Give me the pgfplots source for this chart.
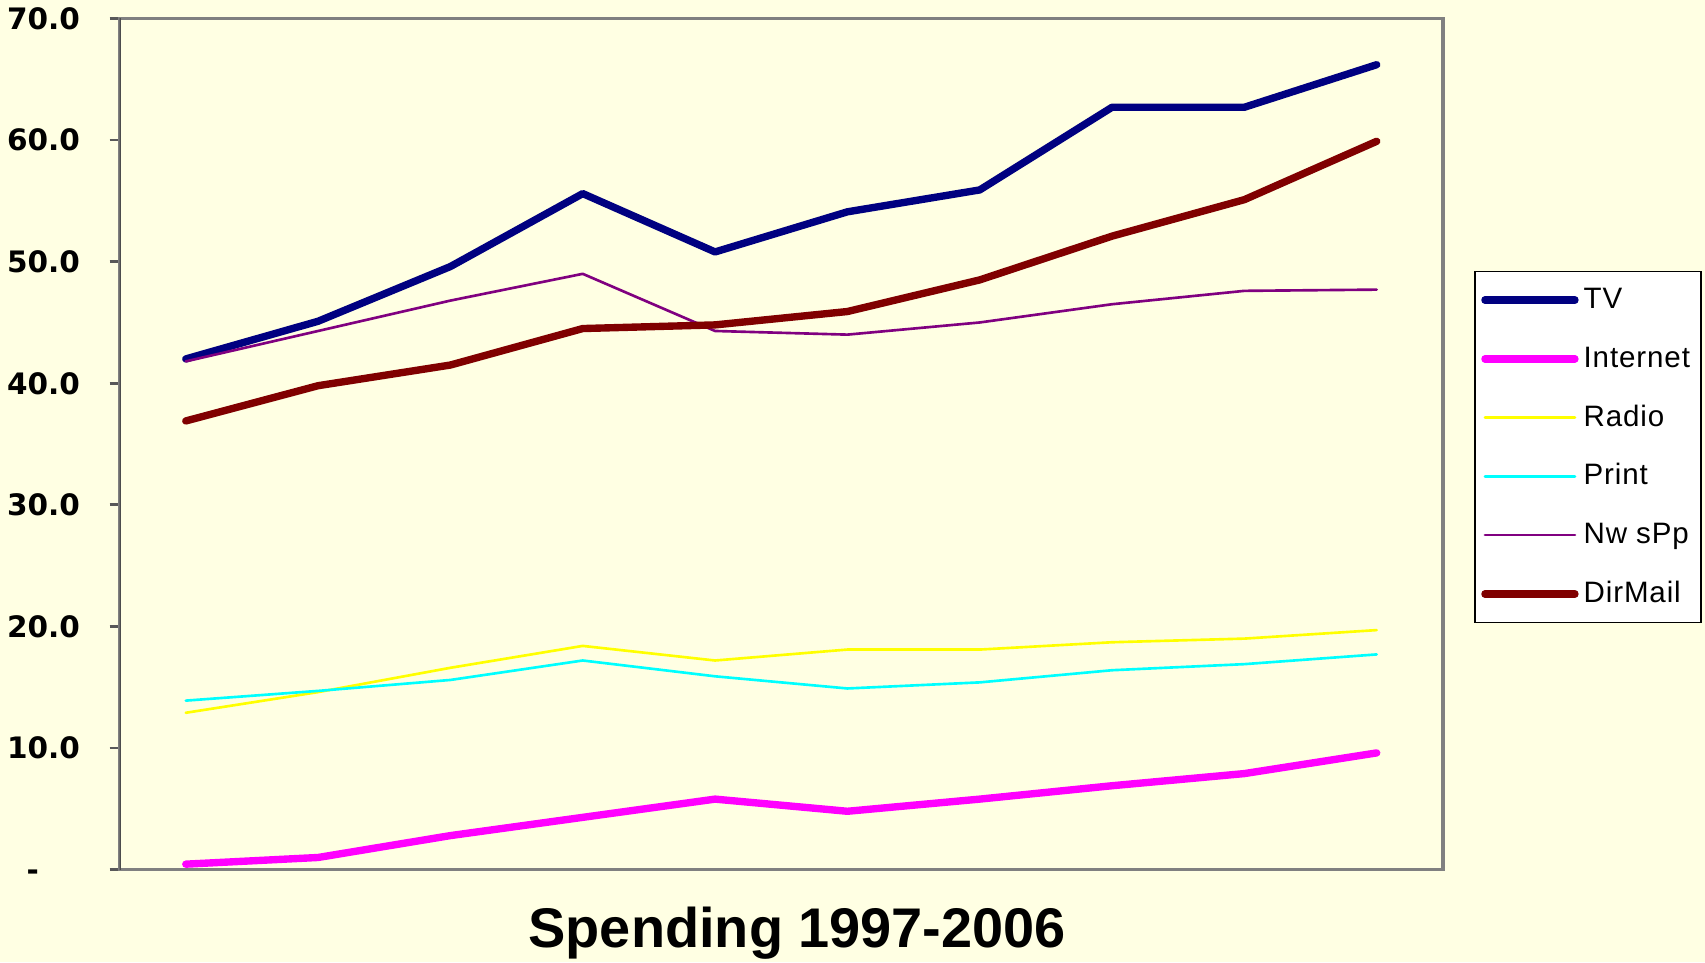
\documentclass[border=0pt]{standalone}
\usepackage{fontspec}
\setmainfont{Liberation Sans}
\newfontfamily\tickfont{DejaVu Sans}
\newfontfamily\legfont[LetterSpace=3]{Liberation Sans}
\usepackage{pgfplots}
\pgfplotsset{compat=1.18}
\usetikzlibrary{backgrounds}

\definecolor{bgc}{RGB}{255,255,227}
\definecolor{tvc}{RGB}{0,0,128}
\definecolor{netc}{RGB}{255,0,255}
\definecolor{radc}{RGB}{255,255,0}
\definecolor{prc}{RGB}{0,255,255}
\definecolor{nwc}{RGB}{128,0,128}
\definecolor{dmc}{RGB}{128,0,0}

\begin{document}
\begin{tikzpicture}
\begin{axis}[
  scale only axis,
  width=132.3mm, height=85.1mm,
  xmin=0.5, xmax=10.5,
  ymin=0, ymax=70,
  xtick=\empty,
  ytick={0,10,...,70},
  yticklabels={\smash{\raisebox{-1.1mm}{-}}\rule{4.1mm}{0pt},10.0,20.0,30.0,40.0,50.0,60.0,70.0},
  /pgf/number format/assume math mode=true,
  yticklabel style={font=\tickfont\fontsize{8.4}{10}\selectfont\bfseries, inner sep=0pt, xshift=-2.9mm},
  tick align=outside,
  major tick length=1mm,
  ytick pos=left,
  tick style={black!65, line width=0.8pt},
  axis line style={gray, line width=1pt},
  axis background/.style={fill=bgc},
  xlabel={Spending 1997-2006},
  xlabel style={font=\fontsize{15.9}{18}\selectfont\bfseries, inner sep=0pt, yshift=-2.7mm, xshift=1.6mm},
  legend style={at={(1.0238,0.7037)}, anchor=north west, draw=black, fill=white,
    font=\legfont\fontsize{8.4}{10}\selectfont, line width=0.5pt, inner xsep=0.6mm, inner ysep=0.8mm,
    row sep=1.77mm,
    nodes={inner xsep=0.5mm, text height=2.2mm, text depth=0.5mm}},
  legend cell align=left,
  legend image code/.code={\draw[#1] (0mm,0mm) -- (9mm,0mm);},
  every axis plot/.append style={line cap=round, line join=round},
]
\coordinate (bl) at (rel axis cs:0,0);
\coordinate (tr) at (rel axis cs:1,1);
\addplot[tvc, line width=2.1pt] coordinates {(1,42.0) (2,45.1) (3,49.6) (4,55.6) (5,50.8) (6,54.1) (7,55.9) (8,62.7) (9,62.7) (10,66.2)};
\addplot[netc, line width=2.1pt] coordinates {(1,0.45) (2,1.0) (3,2.8) (4,4.3) (5,5.8) (6,4.8) (7,5.8) (8,6.9) (9,7.9) (10,9.6)};
\addplot[radc, line width=0.75pt] coordinates {(1,12.9) (2,14.6) (3,16.6) (4,18.4) (5,17.2) (6,18.1) (7,18.1) (8,18.7) (9,19.0) (10,19.7)};
\addplot[prc, line width=0.75pt] coordinates {(1,13.9) (2,14.7) (3,15.6) (4,17.2) (5,15.9) (6,14.9) (7,15.4) (8,16.4) (9,16.9) (10,17.7)};
\addplot[nwc, line width=0.75pt] coordinates {(1,41.8) (2,44.3) (3,46.8) (4,49.0) (5,44.3) (6,44.0) (7,45.0) (8,46.5) (9,47.6) (10,47.7)};
\addplot[dmc, line width=2.1pt] coordinates {(1,36.9) (2,39.8) (3,41.5) (4,44.5) (5,44.8) (6,45.9) (7,48.5) (8,52.1) (9,55.1) (10,59.9)};
\legend{TV,Internet,Radio,Print,Nw sPp,DirMail}
\draw[black!70, line width=1pt] (rel axis cs:0,0) -- (rel axis cs:0,1);
\end{axis}
\begin{scope}[on background layer]
\fill[bgc] ([xshift=-11.96mm,yshift=-9.24mm]bl) rectangle ([xshift=26.21mm,yshift=1.85mm]tr);
\end{scope}
\end{tikzpicture}
\end{document}
